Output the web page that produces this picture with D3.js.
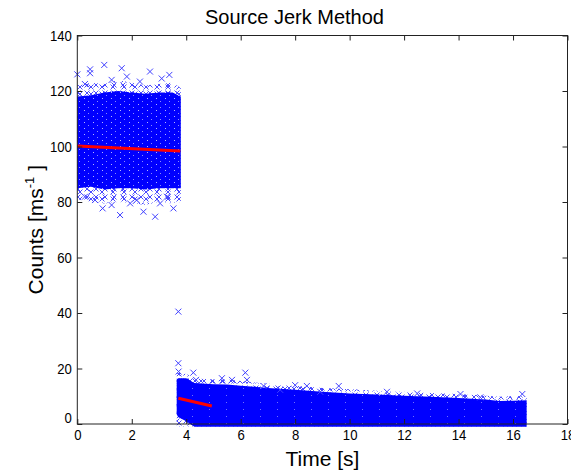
<!DOCTYPE html>
<html>
<head>
<meta charset="utf-8">
<script src="https://cdn.jsdelivr.net/npm/d3@7"></script>
<style>
  body { margin: 0; background: #fff; }
  text { font-family: Arial, "Liberation Sans", sans-serif; fill: #000; }
</style>
</head>
<body>
<script>
// axis ticks
const xTicks = [0, 2, 4, 6, 8, 10, 12, 14, 16, 18];
const yTicks = [0, 20, 40, 60, 80, 100, 120, 140];

// first burst (t < 3.8 s): dense core band and its sparse fringe
const c1Time       = [0, 0.5, 1.0, 1.5, 2.0, 2.5, 3.0, 3.5, 3.8];
const c1CoreLow    = [85, 85.5, 84.5, 85, 85, 84.5, 85, 85, 85];
const c1CoreHigh   = [118, 118.5, 119.5, 120, 119.5, 119, 119.5, 119.5, 118];
const c1FringeLow  = [81, 80, 79.5, 80, 79.5, 79, 80, 79.5, 80];
const c1FringeHigh = [122, 123, 122.5, 124, 123, 122, 122.5, 123, 121];

// second part (t >= 3.65 s)
const c2Time       = [3.65, 3.7, 4.0, 4.3, 5.0, 5.5, 6.0, 6.5, 7.0, 8.0, 9.0, 10.0, 11.0, 12.0, 13.0, 14.0, 15.0, 15.5, 16.0, 16.5];
const c2CoreLow    = [3.5, 2.5, 1, -1, -1, -1, -1, -1, -1, -1, -1, -1, -1, -1, -1, -1, -1, -1, -1, -1];
const c2CoreHigh   = [16, 16.5, 16.5, 14.8, 14.3, 14.2, 13.8, 13.4, 13, 12.3, 11.6, 11, 10.6, 10.2, 9.8, 9.4, 8.8, 8.3, 8.4, 8.6];
const c2FringeLow  = [-1, -1, -1, -1, -1, -1, -1, -1, -1, -1, -1, -1, -1, -1, -1, -1, -1, -1, -1, -1];
const c2FringeHigh = [18, 18.5, 18, 16.5, 16, 16, 15.5, 15, 14.5, 13.8, 13, 12.5, 12, 11.6, 11.2, 10.8, 10.2, 9.8, 10, 10];

// single scattered samples outside the bands
const outlierTime  = [0, 0.47, 0.47, 0.99, 1.63, 2.67, 3.38, 1.26, 1.82, 2.3, 0.28, 3.1,
                      1.57, 2.86, 2.43, 0.93, 1.26, 1.94, 3.53, 3.04, 0.65, 2.18, 3.29, 0.28,
                      3.71, 3.71, 3.72, 4.26, 6.17, 5.31, 6.23, 5.68, 4.36,
                      6.84, 8.0, 8.43, 9.6, 11.37, 12.48, 14.07, 14.8, 16.34, 7.45, 8.92];
const outlierCount = [126, 127.8, 126.4, 129.4, 128.2, 127, 125.8, 124, 125.2, 123.4, 122.5, 124.5,
                      75.3, 74.7, 76.5, 77.7, 78.9, 79.5, 77.7, 79.5, 80.7, 80.7, 81.9, 81.9,
                      40.5, 21.9, 18.9, 18.5, 18.5, 16.5, 15.9, 15.9, 15.9,
                      13.7, 14.0, 13.7, 13.7, 11.6, 11.0, 10.8, 9.6, 10.8, 12.3, 11.6];

// fitted trend lines (start and end)
const fitTime  = [[0, 3.78], [3.71, 4.94]];
const fitCount = [[100.2, 98.4], [9.25, 6.5]];

const W = 571, H = 475;
const svg = d3.select("body").append("svg").attr("width", W).attr("height", H);

const x = d3.scaleLinear().domain([0, 18]).range([77.3, 567.5]);
const y = d3.scaleLinear().domain([0, 140]).range([424, 35.5]);

const defs = svg.append("defs");

// two x-marker textures with different tile sizes so the fringe looks less regular
function xPattern(id, w, h, d) {
  defs.append("pattern").attr("id", id)
    .attr("patternUnits", "userSpaceOnUse").attr("width", w).attr("height", h)
    .append("path").attr("d", d)
    .attr("stroke", "#4a4aff").attr("stroke-width", 1).attr("fill", "none");
}
xPattern("xfringeA", 11, 7, "M0.5,0.5L5.5,5.5M0.5,5.5L5.5,0.5");
xPattern("xfringeB", 9, 8, "M3.5,2.5L8.5,7.5M3.5,7.5L8.5,2.5");

const speck = defs.append("pattern").attr("id", "speck")
  .attr("patternUnits", "userSpaceOnUse").attr("width", 9).attr("height", 6);
speck.append("rect").attr("width", 9).attr("height", 6).attr("fill", "#0000ff");
speck.append("rect").attr("x", 3).attr("y", 2).attr("width", 1).attr("height", 1).attr("fill", "#b4b4ff");
speck.append("rect").attr("x", 7).attr("y", 5).attr("width", 1).attr("height", 1).attr("fill", "#8c8cff");

const speck2 = defs.append("pattern").attr("id", "speck2")
  .attr("patternUnits", "userSpaceOnUse").attr("width", 17).attr("height", 7);
speck2.append("rect").attr("width", 17).attr("height", 7).attr("fill", "#0000ff");
speck2.append("rect").attr("x", 5).attr("y", 3).attr("width", 1).attr("height", 1).attr("fill", "#7070ff");

function band(time, lo, hi) {
  return d3.area()
    .x((d, i) => x(time[i]))
    .y0((d, i) => y(lo[i]))
    .y1((d, i) => y(hi[i]))(time);
}

const plot = svg.append("g");

// fringes first, then the dense cores
["xfringeA", "xfringeB"].forEach(p => {
  plot.append("path").attr("d", band(c1Time, c1FringeLow, c1FringeHigh)).attr("fill", `url(#${p})`);
  plot.append("path").attr("d", band(c2Time, c2FringeLow, c2FringeHigh)).attr("fill", `url(#${p})`);
});
plot.append("path").attr("d", band(c1Time, c1CoreLow, c1CoreHigh)).attr("fill", "url(#speck)");
plot.append("path").attr("d", band(c2Time, c2CoreLow, c2CoreHigh)).attr("fill", "url(#speck2)");

// outliers as x markers
plot.selectAll("path.out")
  .data(outlierTime)
  .enter().append("path")
  .attr("class", "out")
  .attr("transform", (d, i) => `translate(${x(d)},${y(outlierCount[i])})`)
  .attr("d", "M-3,-3L3,3M-3,3L3,-3")
  .attr("stroke", "#4040ff")
  .attr("stroke-width", 1);

// red fit lines
plot.selectAll("line.fit")
  .data(fitTime)
  .enter().append("line")
  .attr("class", "fit")
  .attr("x1", d => x(d[0])).attr("x2", d => x(d[1]))
  .attr("y1", (d, i) => y(fitCount[i][0])).attr("y2", (d, i) => y(fitCount[i][1]))
  .attr("stroke", "#ff0000")
  .attr("stroke-width", 3);

// axes (ticks point inward, MATLAB style)
const axes = svg.append("g");
const digitW = 7.3;

axes.append("g")
  .attr("transform", `translate(0,${y(0)})`)
  .call(d3.axisBottom(x).tickValues(xTicks).tickSizeInner(-5).tickSizeOuter(0).tickPadding(5))
  .call(g => g.select(".domain").remove())
  .call(g => g.selectAll("text")
    .attr("font-size", 15)
    .attr("textLength", d => String(d).length * digitW)
    .attr("lengthAdjust", "spacingAndGlyphs"));

axes.append("g")
  .attr("transform", `translate(${x(0)},0)`)
  .call(d3.axisLeft(y).tickValues(yTicks).tickSizeInner(-5).tickSizeOuter(0).tickPadding(5.5))
  .call(g => g.select(".domain").remove())
  .call(g => g.selectAll("text")
    .attr("font-size", 15)
    .attr("textLength", d => String(d).length * digitW)
    .attr("lengthAdjust", "spacingAndGlyphs")
    .attr("dy", d => d === 0 ? "-0.08em" : "0.32em"));

axes.append("g")
  .attr("transform", `translate(0,${y(140)})`)
  .call(d3.axisTop(x).tickValues(xTicks).tickSizeInner(-5).tickSizeOuter(0).tickFormat(""))
  .call(g => g.select(".domain").remove());

axes.append("g")
  .attr("transform", `translate(${x(18)},0)`)
  .call(d3.axisRight(y).tickValues(yTicks).tickSizeInner(-5).tickSizeOuter(0).tickFormat(""))
  .call(g => g.select(".domain").remove());

axes.selectAll(".tick line").attr("stroke", "#222");

axes.append("rect")
  .attr("x", x(0)).attr("y", y(140))
  .attr("width", x(18) - x(0)).attr("height", y(0) - y(140))
  .attr("fill", "none").attr("stroke", "#222").attr("stroke-width", 1);

// titles
svg.append("text")
  .attr("x", 294.5).attr("y", 23.5)
  .attr("text-anchor", "middle")
  .attr("font-size", 20)
  .text("Source Jerk Method");

svg.append("text")
  .attr("x", (x(0) + x(18)) / 2).attr("y", 466)
  .attr("text-anchor", "middle")
  .attr("font-size", 21)
  .text("Time [s]");

const yl = svg.append("text")
  .attr("transform", `translate(43,${(y(0) + y(140)) / 2}) rotate(-90)`)
  .attr("text-anchor", "middle")
  .attr("font-size", 21);
yl.append("tspan").text("Counts [ms");
yl.append("tspan").attr("font-size", 13).attr("dy", -9).text("-1");
yl.append("tspan").attr("dy", 9).text(" ]");
</script>
</body>
</html>
